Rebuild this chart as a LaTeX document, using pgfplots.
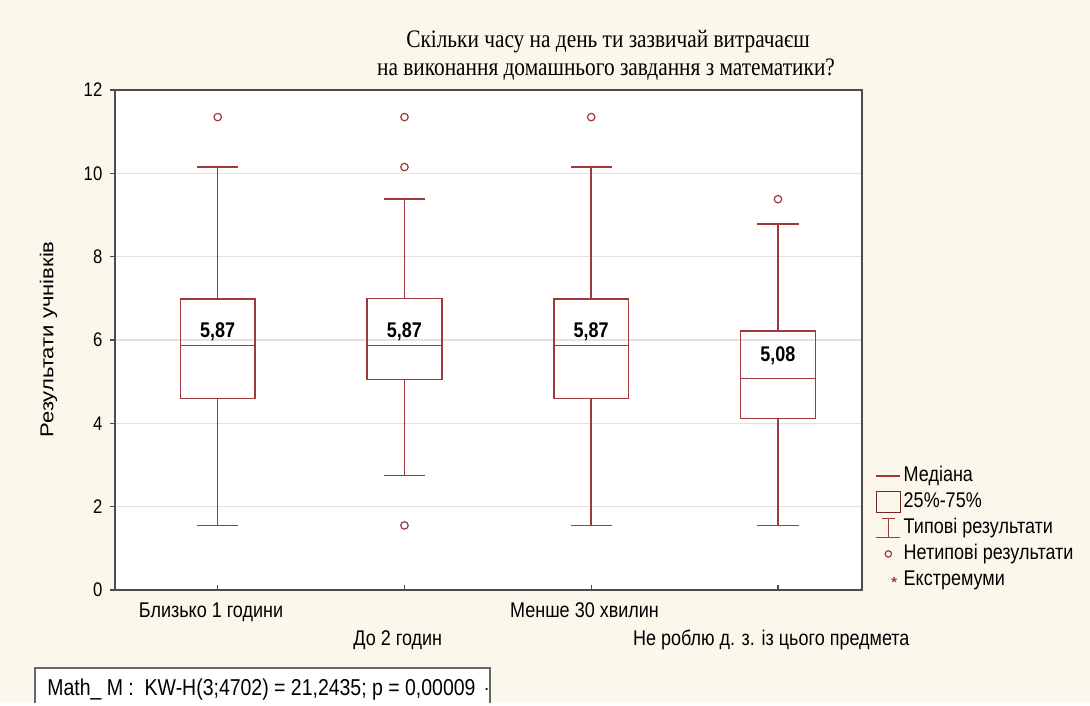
\documentclass[border=0pt]{standalone}
\usepackage{fontspec}
\setmainfont{Liberation Sans}
\newfontfamily\seriffont{Liberation Serif}
\usepackage{graphicx}
\usepackage{pgfplots}
\usepgfplotslibrary{statistics}
\pgfplotsset{compat=1.18}
\definecolor{bg}{RGB}{251,247,235}
\definecolor{boxred}{RGB}{158,58,58}
\definecolor{gridgray}{RGB}{225,225,225}
\newcommand{\vs}[1]{\scalebox{1}[1.18]{#1}}
\begin{document}
\begin{tikzpicture}
\fill[bg] (0,0) rectangle (817.5pt,526.5pt);
\begin{axis}[
  at={(86.25pt,84pt)}, anchor=south west,
  scale only axis, width=560.25pt, height=375pt,
  xmin=-0.55, xmax=3.45, ymin=0, ymax=12,
  axis background/.style={fill=white},
  axis line style={draw=black!70, line width=1pt},
  ytick={0,2,...,12},
  ymajorgrids, grid style={gridgray, line width=1pt},
  xtick={0,1,2,3},
  xticklabels={\vs{Близько 1 години},\raisebox{-21pt}{\vs{До 2 годин}},\vs{Менше 30 хвилин},\raisebox{-21pt}{\vs{Не роблю д. з. із цього предмета}}},
  xticklabel style={font=\fontsize{13.5}{15}\selectfont, text height=11pt, text depth=3pt, yshift=-6pt, xshift=-5pt},
  yticklabel={\vs{\pgfmathprintnumber{\tick}}},
  yticklabel style={font=\fontsize{12.5}{14}\selectfont},
  /pgf/number format/assume math mode=true,
  y tick label style={xshift=-2pt},
  xtick pos=bottom, ytick pos=left,
  tick style={black!70, line width=1pt},
  xtick align=inside, ytick align=outside,
  major tick length=4pt,
  boxplot/draw direction=y,
  legend style={draw=none, fill=none, at={(rel axis cs:1.0,0.27)}, anchor=north west, xshift=7pt, yshift=-4.5pt, font=\fontsize{13.5}{15}\selectfont, row sep=1.5pt, cells={anchor=west}, nodes={text height=11pt, text depth=3pt}},
  legend cell align=left,
]
\addplot[forget plot, boxred, line width=1.1pt, mark=o, mark size=2.8pt, mark options={solid, line width=0.9pt},
  boxplot prepared={median=5.87, upper quartile=6.98, lower quartile=4.6,
  upper whisker=10.15, lower whisker=1.55, draw position=0, box extend=0.4, whisker extend=0.22}]
  table[row sep=\\, y index=0] {11.35\\};
\addplot[forget plot, boxred, line width=1.1pt, mark=o, mark size=2.8pt, mark options={solid, line width=0.9pt},
  boxplot prepared={median=5.87, upper quartile=7.0, lower quartile=5.05,
  upper whisker=9.38, lower whisker=2.75, draw position=1, box extend=0.4, whisker extend=0.22}]
  table[row sep=\\, y index=0] {11.35\\ 10.15\\ 1.55\\};
\addplot[forget plot, boxred, line width=1.1pt, mark=o, mark size=2.8pt, mark options={solid, line width=0.9pt},
  boxplot prepared={median=5.87, upper quartile=6.98, lower quartile=4.6,
  upper whisker=10.15, lower whisker=1.55, draw position=2, box extend=0.4, whisker extend=0.22}]
  table[row sep=\\, y index=0] {11.35\\};
\addplot[forget plot, boxred, line width=1.1pt, mark=o, mark size=2.8pt, mark options={solid, line width=0.9pt},
  boxplot prepared={median=5.08, upper quartile=6.22, lower quartile=4.12,
  upper whisker=8.78, lower whisker=1.55, draw position=3, box extend=0.4, whisker extend=0.22}]
  table[row sep=\\, y index=0] {9.38\\};
\node[font=\bfseries\fontsize{13.5}{15}\selectfont] at (axis cs:0,6.2) {\vs{5,87}};
\node[font=\bfseries\fontsize{13.5}{15}\selectfont] at (axis cs:1,6.2) {\vs{5,87}};
\node[font=\bfseries\fontsize{13.5}{15}\selectfont] at (axis cs:2,6.2) {\vs{5,87}};
\node[font=\bfseries\fontsize{13.5}{15}\selectfont] at (axis cs:3,5.62) {\vs{5,08}};
\addlegendimage{legend image code/.code={\draw[boxred, line width=1.1pt] (0pt,0pt) -- (18pt,0pt);}}
\addlegendentry{\vs{Медіана}}
\addlegendimage{legend image code/.code={\draw[boxred!70!black, line width=1.1pt] (0pt,-8pt) rectangle (18pt,8pt);}}
\addlegendentry{\vs{25\%-75\%}}
\addlegendimage{legend image code/.code={\draw[boxred, line width=1.1pt] (4pt,7pt) -- (14pt,7pt) (9pt,7pt) -- (9pt,-7pt) (0pt,-7pt) -- (18pt,-7pt);}}
\addlegendentry{\vs{Типові результати}}
\addlegendimage{legend image code/.code={\draw[boxred, line width=0.9pt] (9pt,0pt) circle (2.4pt);}}
\addlegendentry{\vs{Нетипові результати}}
\addlegendimage{legend image code/.code={\node[boxred, font=\bfseries\fontsize{11}{11}\selectfont] at (9pt,-2pt) {*};}}
\addlegendentry{\vs{Екстремуми}}
\end{axis}
\node[font=\seriffont\fontsize{16}{18}\selectfont] at (456pt,495.5pt) {\vs{Скільки часу на день ти зазвичай витрачаєш}};
\node[font=\seriffont\fontsize{16}{18}\selectfont] at (454.5pt,474pt) {\vs{на виконання домашнього завдання з математики?}};
\node[rotate=90, font=\fontsize{14}{16}\selectfont] at (36.5pt,272pt) {\scalebox{1.18}[1]{Результати учнівків}};
\fill[white] (26.25pt,0pt) rectangle (367.5pt,25.5pt);
\draw[black!60, line width=1pt] (26.25pt,-1pt) -- (26.25pt,25.5pt) -- (367.5pt,25.5pt) -- (367.5pt,-1pt);
\node[anchor=west, font=\fontsize{14.6}{16}\selectfont] at (32pt,9pt) {\vs{Math\_ M :\ \ KW-H(3;4702) = 21,2435; p = 0,00009}};
\node[font=\fontsize{14}{16}\selectfont] at (365pt,9.5pt) {.};
\end{tikzpicture}
\end{document}
